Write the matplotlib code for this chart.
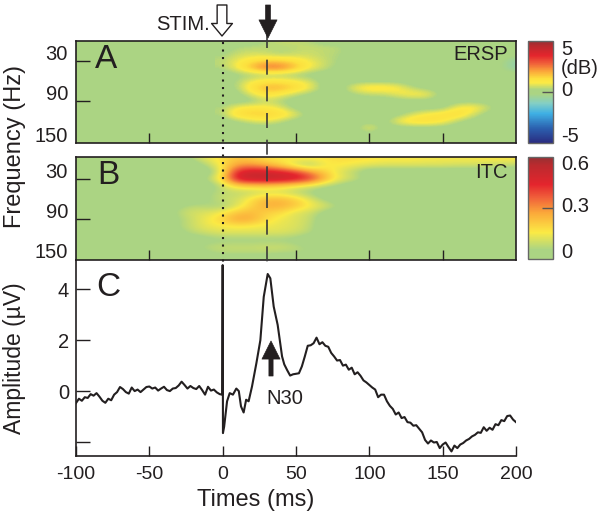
#!/usr/bin/env python3
"""ERSP, ITC and evoked potential around the stimulus (N30 component)."""

import matplotlib

matplotlib.use("Agg")
import matplotlib.pyplot as plt
import numpy as np
from matplotlib.colors import LinearSegmentedColormap

plt.rcParams["font.family"] = ["Liberation Sans", "DejaVu Sans"]
plt.rcParams["axes.unicode_minus"] = False

W, H = 600, 523
INK = "#231f20"

# ERSP in dB, rows are 0..150 Hz (step 10), columns are 0..200 ms (step 10)
ersp_freqs = np.arange(0, 160, 10)
ersp_times = np.arange(0, 210, 10)
ersp_values = [
    [0, 0, 0, .3, .5, .5, .3, 0, 0, 0, 0, 0, 0, 0, 0, 0, 0, 0, 0, 0, 0],
    [0, .3, .4, .4, .3, .4, .5, .45, .4, 0, 0, 0, 0, 0, 0, 0, 0, 0, 0, 0, 0],
    [.2, .5, .6, .5, .3, .5, .5, .4, .3, 0, 0, 0, 0, 0, 0, 0, 0, 0, 0, 0, 0],
    [.4, .8, 1.2, 1.5, 1.5, 1.2, .8, .5, .2, 0, 0, 0, 0, 0, 0, 0, 0, 0, 0, -.1, -.8],
    [.3, .9, 1.9, 2.8, 2.7, 1.8, .9, .5, .1, 0, 0, 0, 0, 0, 0, 0, 0, 0, 0, -.2, -.8],
    [0, .1, .2, .2, .2, .1, 0, 0, 0, 0, 0, 0, 0, 0, 0, 0, 0, 0, 0, 0, 0],
    [0, .3, .8, 1.1, 1.1, .9, .6, 0, 0, 0, 0, 0, 0, 0, 0, 0, 0, 0, 0, 0, 0],
    [0, .3, 1.3, 1.9, 1.9, 1.5, .9, 0, 0, .9, 1.3, 1.3, 1.0, .3, 0, 0, 0, 0, 0, 0, 0],
    [0, 0, .7, 1.2, .9, .4, .1, 0, 0, .2, .4, .4, .8, 1.1, 1.0, 0, 0, 0, 0, 0, 0],
    [0, 0, 0, .5, .2, 0, 0, 0, 0, 0, 0, 0, 0, 0, 0, 0, 0, 0, 0, 0, 0],
    [.3, .9, 1.1, 1.0, .7, 0, 0, 0, 0, 0, 0, 0, 0, 0, 0, 0, .9, 1.2, .6, 0, 0],
    [.3, 1.4, 1.6, 1.6, 1.4, .8, 0, 0, 0, 0, 0, 0, 0, .6, 1.0, 1.3, 1.5, .7, 0, 0, 0],
    [0, .2, .6, .8, .4, 0, 0, 0, 0, 0, 0, 0, 1.0, 1.4, 1.4, 1.1, .3, 0, 0, 0, 0],
    [0, 0, 0, 0, 0, 0, 0, 0, 0, 0, 1.0, 0, 0, 0, 0, 0, 0, 0, 0, 0, 0],
    [0, 0, 0, 0, 0, 0, 0, 0, 0, 0, 0, 0, 0, 0, 0, 0, 0, 0, 0, 0, 0],
    [0, 0, 0, 0, 0, 0, 0, 0, 0, 0, 0, 0, 0, 0, 0, 0, 0, 0, 0, 0, 0],
]

# ITC, rows are 0..150 Hz (step 10), columns are -100..200 ms (step 10)
itc_freqs = np.arange(0, 160, 10)
itc_times = np.arange(-100, 210, 10)
itc_values = [
    [0, 0, 0, 0, 0, 0, 0, 0, .08, .14, .18, .22, .2, .17, .16, .17, .17, .17, .18, .18, .17, .16, .16, .16, .15, .15, .15, .15, .16, .16, .16],
    [0, 0, 0, 0, 0, 0, 0, 0, 0, .08, .17, .28, .3, .25, .19, .09, .05, .15, .16, .14, .13, .12, .12, .12, .12, .12, .11, .11, .1, .09, .08],
    [0, 0, 0, 0, 0, 0, 0, 0, 0, 0, .16, .45, .5, .49, .46, .41, .29, .2, .12, .07, 0, 0, 0, 0, 0, 0, 0, 0, 0, 0, 0],
    [0, 0, 0, 0, 0, 0, 0, 0, 0, .08, .2, .49, .53, .54, .53, .5, .43, .25, .14, .1, .03, .03, .08, 0, 0, 0, 0, 0, 0, 0, 0],
    [0, 0, 0, 0, 0, 0, 0, 0, 0, 0, .1, .2, .22, .22, .2, .16, .12, .08, .04, 0, 0, 0, 0, 0, 0, 0, 0, 0, 0, 0, 0],
    [0, 0, 0, 0, 0, 0, 0, 0, 0, .05, .08, .08, .08, .1, .1, .07, .04, 0, 0, 0, 0, 0, 0, 0, 0, 0, 0, 0, 0, 0, 0],
    [0, 0, 0, 0, 0, 0, 0, 0, 0, .05, .1, .1, .18, .24, .24, .2, .12, .04, 0, 0, 0, 0, 0, 0, 0, 0, 0, 0, 0, 0, 0],
    [0, 0, 0, 0, 0, 0, 0, .04, .08, .06, .05, .12, .2, .26, .26, .22, .16, .12, .06, 0, 0, 0, 0, 0, 0, 0, 0, 0, 0, 0, 0],
    [0, 0, 0, 0, 0, 0, 0, .08, .11, .12, .16, .22, .24, .2, .18, .12, .1, .03, 0, 0, .05, .06, .06, .06, 0, 0, 0, 0, 0, 0, 0],
    [0, 0, 0, 0, 0, 0, 0, .05, .1, .15, .2, .28, .26, .18, .14, .12, .09, 0, 0, 0, 0, 0, 0, 0, 0, 0, 0, 0, 0, 0, 0],
    [0, 0, 0, 0, 0, .05, 0, .06, .1, .14, .15, .16, .15, .14, .13, .12, .08, 0, 0, 0, 0, 0, 0, 0, 0, 0, 0, 0, 0, 0, 0],
    [0, 0, 0, 0, 0, 0, 0, .03, .08, .1, .12, .12, .12, .12, .12, .1, .07, 0, 0, 0, 0, 0, 0, 0, 0, 0, 0, 0, 0, 0, 0],
    [0, 0, 0, 0, 0, 0, 0, 0, 0, .03, .04, .04, .04, .04, .04, .03, 0, 0, 0, 0, 0, 0, 0, 0, 0, 0, 0, 0, 0, 0, 0],
    [0, 0, 0, 0, 0, 0, 0, 0, .05, .08, .09, .09, .09, .1, .1, .08, .05, 0, 0, 0, 0, 0, 0, 0, 0, 0, 0, 0, 0, 0, 0],
    [0, 0, 0, 0, 0, 0, 0, 0, 0, .05, .07, .07, .07, .07, .06, .06, .05, .03, 0, 0, 0, 0, 0, 0, 0, .06, .06, 0, 0, 0, 0],
    [0, 0, 0, 0, 0, 0, 0, 0, 0, 0, 0, 0, 0, 0, 0, 0, 0, 0, 0, 0, 0, 0, 0, 0, 0, 0, 0, 0, 0, 0, 0],
]

# evoked potential trace: before the stimulus, around the spike and N30, after N30
pre_times = np.arange(-100, 0, 2)
pre_values = [
    -.47, -.30, -.38, -.24, -.27, -.12, -.18, -.08, -.22, -.38,
    -.46, -.30, -.36, -.14, -.04, .16, .08, -.04, -.10, .14,
    .00, .06, -.04, .06, .16, .18, .10, .14, .02, .10,
    .17, .04, .00, .10, .12, .22, .37, .24, .10, .20,
    .12, .08, .20, .04, -.14, .17, .02, .06, -.05, -.12,
]
mid_times = [-0.3, 0, 0.2, 1, 3, 4.8, 7, 9.3, 11, 12.5, 14.3, 16, 17.7, 20, 23, 25.7, 28, 30.7,
             32.5, 34.8, 37.5, 40.5]
mid_values = [-.14, 4.95, -1.65, -1.4, -.4, -.08, -.14, .1, 0, -.6, -.84, -.34, -.4, .18, 1.1,
              2.0, 3.7, 4.6, 4.43, 3.32, 2.6, 1.36]
post_times = np.arange(42, 202, 2)
post_values = [
    1.05, .82, .61, .66, .68, .70, .97, 1.36, 1.78, 1.80,
    1.88, 2.10, 1.84, 1.92, 1.78, 1.74, 1.50, 1.36, 1.20, 1.22,
    1.00, 1.04, .84, .92, .66, .74, .60, .42, .34, .24,
    .14, .06, -.24, -.14, -.14, -.40, -.58, -.70, -.92, -.84,
    -1.06, -1.02, -1.22, -1.24, -1.36, -1.34, -1.48, -1.62, -1.92, -2.06,
    -1.94, -2.02, -2.00, -2.24, -2.10, -2.02, -2.20, -2.37, -2.14, -2.24,
    -2.10, -2.04, -1.94, -1.88, -1.78, -1.72, -1.62, -1.64, -1.42, -1.56,
    -1.44, -1.52, -1.30, -1.34, -1.14, -1.18, -.98, -.96, -1.12, -1.22,
]

time_ticks = [-100, -50, 0, 50, 100, 150, 200]
panel_time_ticks = [-50, 50, 100, 150]
freq_ticks = [30, 90]
amp_ticks = [4, 2, 0, -2]
amp_tick_labels = ["4", "2", "0", ""]
stim_time = 0
n30_time = 30

GREEN = "#abd483"
ersp_cmap = LinearSegmentedColormap.from_list("ersp", [
    (0.00, "#2a2c80"), (0.14, "#2b5fae"), (0.29, "#3fb0e4"), (0.39, "#84cfc4"),
    (0.48, GREEN), (0.525, GREEN), (0.59, "#fbea45"), (0.63, "#fde03e"), (0.70, "#fba93a"),
    (0.78, "#f0603a"), (0.86, "#e4252d"), (0.95, "#bb2a2e"), (1.00, "#963033"),
])
itc_cmap = LinearSegmentedColormap.from_list("itc", [
    (0.00, GREEN), (0.09, GREEN), (0.26, "#fbea45"), (0.45, "#fba93a"),
    (0.60, "#f0603a"), (0.73, "#e4252d"), (0.92, "#bb2a2e"), (1.00, "#963033"),
])


def px_axes(fig, left, top, right, bottom):
    return fig.add_axes([left / W, 1 - bottom / H, (right - left) / W, (bottom - top) / H])


def px_text(fig, x, y, s, size=14.5, ha="left", **kw):
    fig.text(x / W, 1 - y / H, s, fontsize=size, ha=ha, va="center", color=INK, **kw)


def px_arrow(fig, x, y_tail, y_tip, **props):
    fig.add_artist(plt.matplotlib.text.Annotation(
        "", xy=(x / W, 1 - y_tip / H), xytext=(x / W, 1 - y_tail / H),
        xycoords="figure fraction", textcoords="figure fraction", arrowprops=props,
    ))


def style_axes(ax):
    for spine in ax.spines.values():
        spine.set_linewidth(1.2)
        spine.set_color(INK)
    ax.tick_params(axis="x", direction="in", length=7, width=1.0, color=INK, labelsize=14,
                   labelcolor=INK, pad=7)
    ax.tick_params(axis="y", direction="in", length=10, width=1.0, color=INK, labelsize=14.5,
                   labelcolor=INK, pad=5)


def heat_panel(fig, top, bottom, values, times, freqs, cmap, vmin, vmax, ylim):
    ax = px_axes(fig, 76, top, 516, bottom)
    ax.set_facecolor(GREEN)
    dt, df = times[1] - times[0], freqs[1] - freqs[0]
    im = ax.imshow(
        np.array(values), cmap=cmap, vmin=vmin, vmax=vmax, aspect="auto",
        interpolation="bicubic", interpolation_stage="data",
        extent=[times[0] - dt / 2, times[-1] + dt / 2, freqs[-1] + df / 2, freqs[0] - df / 2],
    )
    ax.set_xlim(-100, 200)
    ax.set_ylim(*ylim)
    ax.set_xticks(panel_time_ticks)
    ax.set_xticklabels([])
    ax.set_yticks(freq_ticks)
    ax.set_yticklabels([])
    style_axes(ax)
    return ax, im


def colour_bar(fig, im, top, bottom, tick):
    cax = px_axes(fig, 528, top, 553, bottom)
    cb = fig.colorbar(im, cax=cax)
    cb.set_ticks([tick])
    cb.set_ticklabels([""])
    cax.tick_params(axis="y", direction="in", length=8, width=1.0, color="#555555", right=True)
    cb.outline.set_edgecolor("#666666")
    cb.outline.set_linewidth(1.0)


def main():
    fig = plt.figure(figsize=(W / 100, H / 100), dpi=100)

    ax_a, im_a = heat_panel(fig, 41, 143, ersp_values, ersp_times, ersp_freqs,
                            ersp_cmap, -5, 5, (153, 0))
    ax_b, im_b = heat_panel(fig, 157, 260, itc_values, itc_times, itc_freqs,
                            itc_cmap, 0, 0.6, (150, -2))
    colour_bar(fig, im_a, 41, 143, 0)
    colour_bar(fig, im_b, 157, 259, 0.3)

    # evoked potential
    ax_c = px_axes(fig, 76, 260, 516, 456)
    amp_times = np.concatenate([pre_times, mid_times, post_times])
    amp_values = np.concatenate([pre_values, mid_values, post_values])
    ax_c.plot(amp_times, amp_values, color=INK, lw=1.5, solid_joinstyle="round")
    ax_c.set_xlim(-100, 200)
    ax_c.set_ylim(-2.55, 5.15)
    ax_c.set_xticks(time_ticks)
    ax_c.set_yticks(amp_ticks)
    ax_c.set_yticklabels(amp_tick_labels)
    ax_c.spines["top"].set_visible(False)
    ax_c.spines["right"].set_visible(False)
    style_axes(ax_c)
    ax_c.set_facecolor("none")

    # marker lines run across the gap between the panels
    ax_lines = px_axes(fig, 76, 33, 516, 265)
    ax_lines.set_xlim(-100, 200)
    ax_lines.set_ylim(265, 33)
    ax_lines.axis("off")
    ax_lines.vlines(stim_time, 42, 262, color=INK, lw=1.5, linestyles=(0, (1, 2.6)))
    ax_lines.vlines(n30_time, 33, 265, color="#3a3a3a", lw=1.2, linestyles=(0, (9, 7)))

    # frequency labels sit a little above their ticks in the original
    for y, s in [(55, "30"), (95, "90"), (137, "150"), (172, "30"), (213, "90"), (253, "150")]:
        px_text(fig, 68, y, s, ha="right")
    for x, y, s in [(95, 59, "A"), (97, 176, "B"), (96, 288, "C")]:
        px_text(fig, x, y, s, size=24)
    px_text(fig, 508, 55, "ERSP", ha="right")
    px_text(fig, 508, 173, "ITC", ha="right")
    px_text(fig, 156, 24, "STIM.")
    px_text(fig, 285, 398, "N30", ha="center")
    px_text(fig, 15, 146, "Frequency (Hz)", size=17, ha="center", rotation=90)
    px_text(fig, 15, 358, "Amplitude (µV)", size=16.5, ha="center", rotation=90)
    px_text(fig, 256, 500, "Times (ms)", size=17, ha="center")

    for y, s in [(49, "5"), (68, "(dB)"), (90, "0"), (137, "-5"),
                 (164, "0.6"), (207, "0.3"), (253, "0")]:
        px_text(fig, 561, y, s)

    # arrows
    px_arrow(fig, 222, 5, 36, width=7, headwidth=15, headlength=9, fc="white", ec=INK, lw=1.0,
             shrinkA=0, shrinkB=0)
    px_arrow(fig, 268, 5, 38, width=3.5, headwidth=13, headlength=13, fc=INK, ec=INK, lw=0.5,
             shrinkA=0, shrinkB=0)
    px_arrow(fig, 271, 376, 341, width=3, headwidth=13, headlength=13, fc=INK, ec=INK, lw=0.5,
             shrinkA=0, shrinkB=0)

    fig.savefig("out.png", dpi=100)


if __name__ == "__main__":
    main()
